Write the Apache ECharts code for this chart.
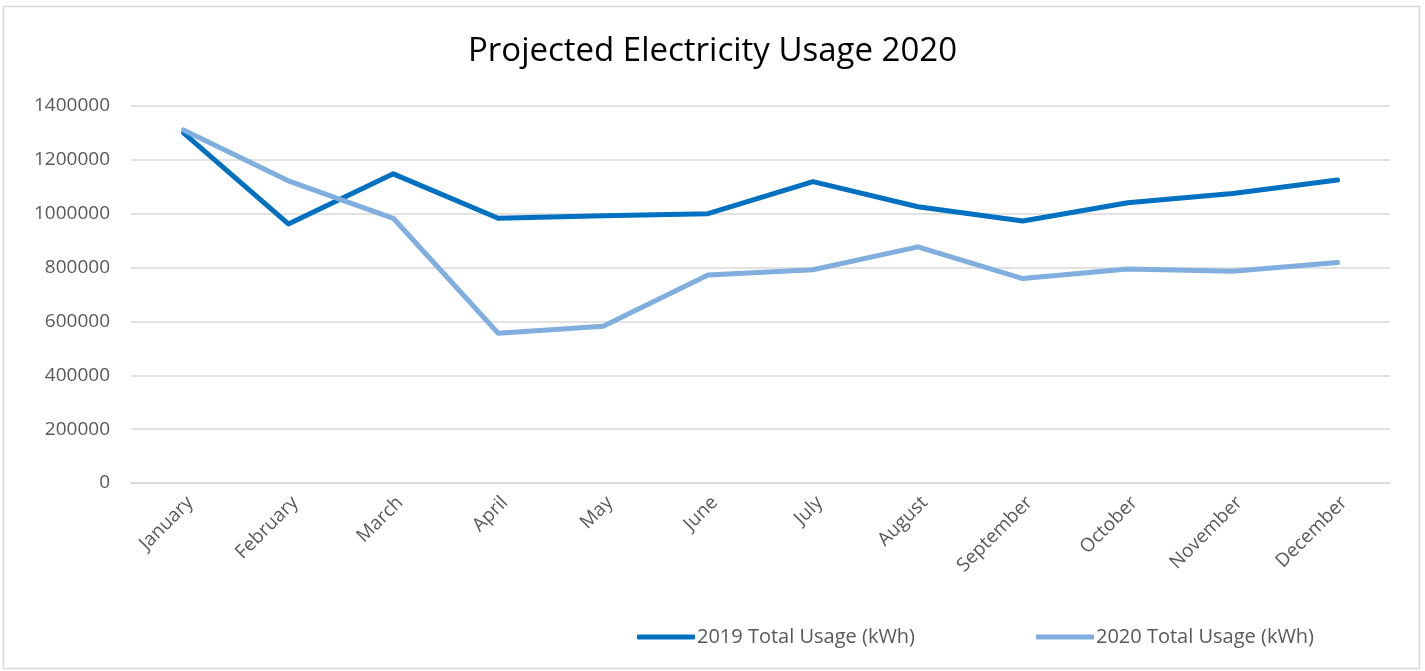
<!DOCTYPE html>
<html>
<head>
<meta charset="utf-8">
<script src="https://cdn.jsdelivr.net/npm/echarts@6/dist/echarts.min.js"></script>
<style>
  html, body { margin: 0; padding: 0; background: #fff; }
  #chart { width: 1425px; height: 671px; }
</style>
</head>
<body>
<div id="chart"></div>
<script>
const months = ['January','February','March','April','May','June','July','August','September','October','November','December'];
const usage2019 = [1300000, 962000, 1148000, 983000, 992000, 1000000, 1119000, 1026000, 973000, 1041000, 1075000, 1125000];
const usage2020 = [1311000, 1122000, 983000, 556000, 582000, 772000, 792000, 877000, 759000, 795000, 786000, 819000];
const yTicks = [0, 200000, 400000, 600000, 800000, 1000000, 1200000, 1400000];
const seriesNames = ['2019 Total Usage (kWh)', '2020 Total Usage (kWh)'];

const font = '"Open Sans", "Liberation Sans", sans-serif';

function legendAt(name, left) {
  return {
    left: left,
    top: 622,
    itemWidth: 58,
    itemHeight: 5,
    icon: 'roundRect',
    textStyle: { fontFamily: font, fontSize: 20, color: '#595959', padding: [0, 0, 0, -3] },
    data: [name]
  };
}

let myChart = echarts.init(document.getElementById('chart'));
let option = {
  animation: false,
  backgroundColor: '#fff',
  graphic: [{
    type: 'rect',
    shape: { x: 3.5, y: 6.5, width: 1416, height: 662 },
    style: { fill: 'none', stroke: '#D9D9D9', lineWidth: 1.5 }
  }],
  title: {
    text: 'Projected Electricity Usage 2020',
    left: 'center',
    top: 30,
    textStyle: { fontFamily: font, fontSize: 33, fontWeight: 'normal', color: '#000' }
  },
  grid: { left: 131, right: 35, top: 106, bottom: 188 },
  legend: [legendAt(seriesNames[0], 632), legendAt(seriesNames[1], 1031)],
  xAxis: {
    type: 'category',
    data: months,
    boundaryGap: true,
    axisLine: { lineStyle: { color: '#D9D9D9', width: 1.5 } },
    axisTick: { show: false },
    axisLabel: {
      rotate: 45, interval: 0, margin: 10, verticalAlign: 'top',
      fontFamily: font, fontSize: 19, color: '#595959'
    }
  },
  yAxis: {
    type: 'value',
    min: yTicks[0],
    max: yTicks[yTicks.length - 1],
    interval: 200000,
    axisLine: { show: false },
    axisTick: { show: false },
    splitLine: { lineStyle: { color: '#D9D9D9', width: 1.5 } },
    axisLabel: {
      margin: 21, fontFamily: font, fontSize: 19, color: '#595959',
      formatter: function (v) { return String(v); }
    }
  },
  series: [
    {
      name: seriesNames[0],
      type: 'line',
      data: usage2019,
      showSymbol: false,
      color: '#0070C0',
      lineStyle: { width: 5, cap: 'round', join: 'round' }
    },
    {
      name: seriesNames[1],
      type: 'line',
      data: usage2020,
      showSymbol: false,
      color: '#7FAEDF',
      lineStyle: { width: 5, cap: 'round', join: 'round' }
    }
  ]
};
myChart.setOption(option);
</script>
</body>
</html>
